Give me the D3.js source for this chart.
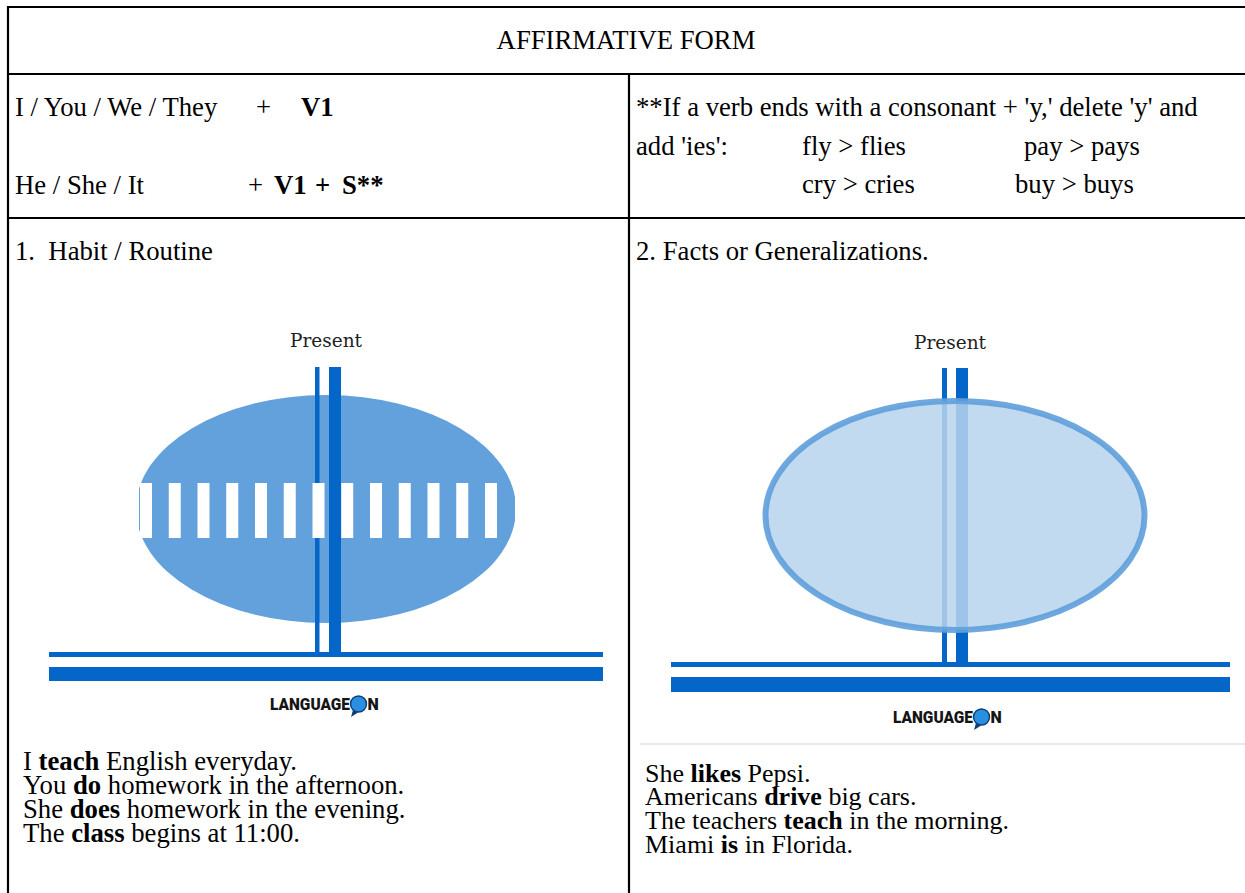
<!DOCTYPE html>
<html>
<head>
<meta charset="utf-8">
<script src="https://cdn.jsdelivr.net/npm/d3@7"></script>
<style>
  body { margin: 0; background: #fff; }
  svg { display: block; }
  text { white-space: pre; }
</style>
</head>
<body>
<div id="sheet"></div>
<script>
// Content of the sheet
const titleText = "AFFIRMATIVE FORM";
const subjects = ["I / You / We / They", "He / She / It"];
const verbForms = [["V1"], ["V1", "+", "S**"]];
const ruleLines = ["**If a verb ends with a consonant + 'y,' delete 'y' and", "add 'ies':"];
const spellingPairs = [["fly", "flies"], ["pay", "pays"], ["cry", "cries"], ["buy", "buys"]];
const useCases = ["1.  Habit / Routine", "2. Facts or Generalizations."];
const habitExamples = [
    ["I ", "teach", " English everyday."],
    ["You ", "do", " homework in the afternoon."],
    ["She ", "does", " homework in the evening."],
    ["The ", "class", " begins at 11:00."]
];
const factExamples = [
    ["She ", "likes", " Pepsi."],
    ["Americans ", "drive", " big cars."],
    ["The teachers ", "teach", " in the morning."],
    ["Miami ", "is", " in Florida."]
];
// repeated actions on the habit timeline (0 = now)
const habitTimes = [-6, -5, -4, -3, -2, -1, 0, 1, 2, 3, 4, 5, 6];
const timeLabel = "Present";

const width = 1245, height = 893;
const serif = "'Liberation Serif', 'Times New Roman', serif";
const fontSize = 26.7;
const dark = "#0366c8", mid = "#62a1db";

const svg = d3.select("#sheet")
    .append("svg")
    .attr("width", width)
    .attr("height", height);

// table rules
const rules = [
    [7, 7, width, 7], [7, 74, width, 74], [7, 218, width, 218],
    [8, 6, 8, height], [629, 74, 629, height]
];
svg.selectAll("line.rule")
    .data(rules)
    .enter()
    .append("line")
    .attr("class", "rule")
    .attr("x1", d => d[0]).attr("y1", d => d[1])
    .attr("x2", d => d[2]).attr("y2", d => d[3])
    .attr("stroke", "#000")
    .attr("stroke-width", 2.2);

// light line under right picture
svg.append("line")
    .attr("x1", 640).attr("x2", width)
    .attr("y1", 744).attr("y2", 744)
    .attr("stroke", "#e2e2e2").attr("stroke-width", 1.5);

function plain(x, y, str, opts = {}) {
    return svg.append("text")
        .attr("x", x).attr("y", y)
        .attr("text-anchor", opts.anchor || "start")
        .style("font-family", serif)
        .style("font-size", (opts.size || fontSize) + "px")
        .style("font-weight", opts.bold ? "bold" : "normal")
        .text(str);
}

// title row
plain(626, 49, titleText, { anchor: "middle" });

// subject + verb rows
const formY = [116, 194], plusX = [256, 248];
const verbX = [[301], [274, 315, 342]];
subjects.forEach((s, i) => {
    plain(15, formY[i], s);
    plain(plusX[i], formY[i], "+");
    verbForms[i].forEach((v, j) => plain(verbX[i][j], formY[i], v, { bold: true }));
});

// spelling rule
plain(636, 116, ruleLines[0]);
plain(636, 155, ruleLines[1]);
const pairPos = [[802, 155], [1024, 155], [802, 193], [1015, 193]];
spellingPairs.forEach((p, i) => {
    plain(pairPos[i][0], pairPos[i][1], p[0] + " > " + p[1]);
});

// use case headings
plain(15, 260, useCases[0]);
plain(636, 260, useCases[1]);

// example sentences with bold verbs
function sentences(x, ys, rows, size) {
    rows.forEach((r, i) => {
        const t = svg.append("text")
            .attr("x", x).attr("y", ys[i])
            .style("font-family", serif)
            .style("font-size", size + "px");
        r.forEach((part, j) => {
            t.append("tspan")
                .style("font-weight", j === 1 ? "bold" : "normal")
                .text(part);
        });
    });
}
sentences(23, [770, 794, 818, 842], habitExamples, fontSize);
sentences(645, [782, 805, 829, 853], factExamples, 26);

// logo "LANGUAGE ON"
function logo(x0, cy) {
    const g = svg.append("g").attr("transform", `translate(${x0},${cy})`);
    g.append("text")
        .attr("x", 0).attr("y", 6)
        .attr("textLength", 80)
        .attr("lengthAdjust", "spacingAndGlyphs")
        .style("font-family", "Roboto, 'DejaVu Sans', sans-serif")
        .style("font-weight", "900")
        .style("font-size", "16px")
        .style("fill", "#151515")
        .text("LANGUAGE");
    g.append("path")
        .attr("d", "M83,6 L81,13 L88,8.5 Z")
        .attr("fill", "#0b3f78");
    g.append("circle")
        .attr("cx", 88.5).attr("cy", 0).attr("r", 8)
        .attr("fill", "#2a8fe0")
        .attr("stroke", "#0b3f78").attr("stroke-width", 1.4);
    g.append("text")
        .attr("x", 97.5).attr("y", 6)
        .style("font-family", "Roboto, 'DejaVu Sans', sans-serif")
        .style("font-weight", "900")
        .style("font-size", "16px")
        .style("fill", "#151515")
        .text("N");
}

// habit diagram
const xHabit = d3.scaleLinear().domain([-6, 6]).range([146, 491]);
const left = svg.append("g");
left.append("defs").append("clipPath").attr("id", "habitClip")
    .append("rect").attr("x", 139).attr("y", 380).attr("width", 376).attr("height", 260);
left.append("ellipse")
    .attr("cx", 326).attr("cy", 509).attr("rx", 190).attr("ry", 114)
    .attr("fill", mid)
    .attr("clip-path", "url(#habitClip)");
left.append("rect").attr("x", 315).attr("y", 367).attr("width", 4.5).attr("height", 288).attr("fill", dark);
left.selectAll("rect.tick")
    .data(habitTimes)
    .enter()
    .append("rect")
    .attr("class", "tick")
    .attr("x", d => xHabit(d) - 6)
    .attr("y", 483)
    .attr("width", 12)
    .attr("height", 55)
    .attr("fill", "#fff");
left.append("rect").attr("x", 329).attr("y", 367).attr("width", 12).attr("height", 288).attr("fill", dark);
left.append("rect").attr("x", 49).attr("y", 652).attr("width", 554).attr("height", 5).attr("fill", dark);
left.append("rect").attr("x", 49).attr("y", 667).attr("width", 554).attr("height", 14).attr("fill", dark);
left.append("text")
    .attr("x", 326).attr("y", 347)
    .attr("text-anchor", "middle")
    .style("font-family", "'DejaVu Serif', serif")
    .style("font-size", "18.5px")
    .style("fill", "#222")
    .text(timeLabel);
logo(270, 704);

// facts diagram
const right = svg.append("g");
right.append("rect").attr("x", 942).attr("y", 368).attr("width", 5).attr("height", 297).attr("fill", dark);
right.append("rect").attr("x", 956).attr("y", 368).attr("width", 12).attr("height", 297).attr("fill", dark);
right.append("ellipse")
    .attr("cx", 955).attr("cy", 515.5).attr("rx", 189.5).attr("ry", 114.5)
    .attr("fill", "rgb(184,212,237)").attr("fill-opacity", 0.86)
    .attr("stroke", mid).attr("stroke-width", 6).attr("stroke-opacity", 0.92);
right.append("rect").attr("x", 671).attr("y", 662).attr("width", 559).attr("height", 5).attr("fill", dark);
right.append("rect").attr("x", 671).attr("y", 677).attr("width", 559).attr("height", 15).attr("fill", dark);
right.append("text")
    .attr("x", 950).attr("y", 349)
    .attr("text-anchor", "middle")
    .style("font-family", "'DejaVu Serif', serif")
    .style("font-size", "18.5px")
    .style("fill", "#222")
    .text(timeLabel);
logo(893, 717);
</script>
</body>
</html>
